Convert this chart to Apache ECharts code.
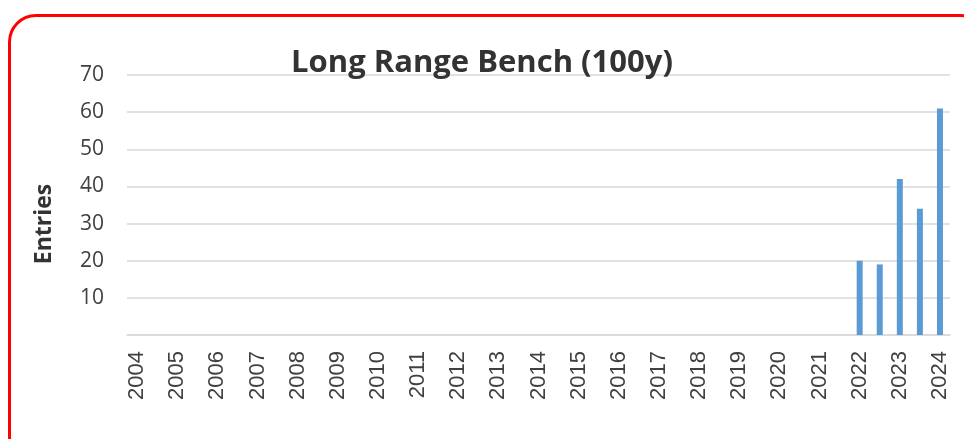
<!DOCTYPE html>
<html>
<head>
<meta charset="utf-8">
<script src="https://cdn.jsdelivr.net/npm/echarts@6/dist/echarts.min.js"></script>
<style>
  html, body { margin: 0; padding: 0; background: #fff; overflow: hidden; }
  #wrap { position: relative; width: 964px; height: 439px; }
  #frame { position: absolute; left: 8px; top: 14px; width: 980px; height: 450px;
           border: 3px solid #ff0000; border-radius: 28px; box-sizing: border-box; }
  #chart { position: absolute; left: 0; top: 0; width: 964px; height: 439px; }
</style>
</head>
<body>
<div id="wrap">
  <div id="frame"></div>
  <div id="chart"></div>
</div>
<script>
// 半年一个刻度，只给整年写标签
var categories = ['2004','','2005','','2006','','2007','','2008','','2009','','2010','','2011','','2012','',
  '2013','','2014','','2015','','2016','','2017','','2018','','2019','','2020','','2021','','2022','',
  '2023','','2024'];
var entries = [null,null,null,null,null,null,null,null,null,null,null,null,null,null,null,null,null,null,
  null,null,null,null,null,null,null,null,null,null,null,null,null,null,null,null,null,null,20,19,
  42,34,61];
var yTicks = [0, 70, 10];

var myChart = echarts.init(document.getElementById('chart'));
var option = {
  animation: false,
  title: {
    text: 'Long Range Bench (100y)',
    left: 'center',
    top: 43,
    textStyle: { fontFamily: 'Open Sans', fontWeight: 'bold', fontSize: 31, color: '#333' }
  },
  grid: { left: 127, right: 14, top: 75, bottom: 104 },
  xAxis: {
    type: 'category',
    data: categories,
    axisLine: { lineStyle: { color: '#d9d9d9', width: 1.5 } },
    axisTick: { show: false },
    axisLabel: { interval: 0, rotate: 90, margin: 16, fontFamily: '"Liberation Sans", Arial, sans-serif', fontSize: 22, color: '#404040' }
  },
  yAxis: {
    type: 'value',
    min: yTicks[0], max: yTicks[1], interval: yTicks[2],
    axisLine: { show: false },
    axisTick: { show: false },
    splitLine: { lineStyle: { color: '#d9d9d9', width: 1.5 } },
    axisLabel: {
      margin: 23, fontFamily: 'Open Sans', fontSize: 21, color: '#404040',
      formatter: function (v) { return v === 0 ? '' : v; }
    }
  },
  graphic: [{
    type: 'text',
    x: 33, y: 224,
    rotation: Math.PI / 2,
    style: {
      text: 'Entries', fontFamily: 'Open Sans', fontWeight: 'bold', fontSize: 23,
      fill: '#333', align: 'center', verticalAlign: 'top'
    }
  }],
  series: [{
    name: 'Entries',
    type: 'bar',
    data: entries,
    barWidth: 6,
    itemStyle: { color: '#5b9bd5' }
  }]
};
myChart.setOption(option);
</script>
</body>
</html>
